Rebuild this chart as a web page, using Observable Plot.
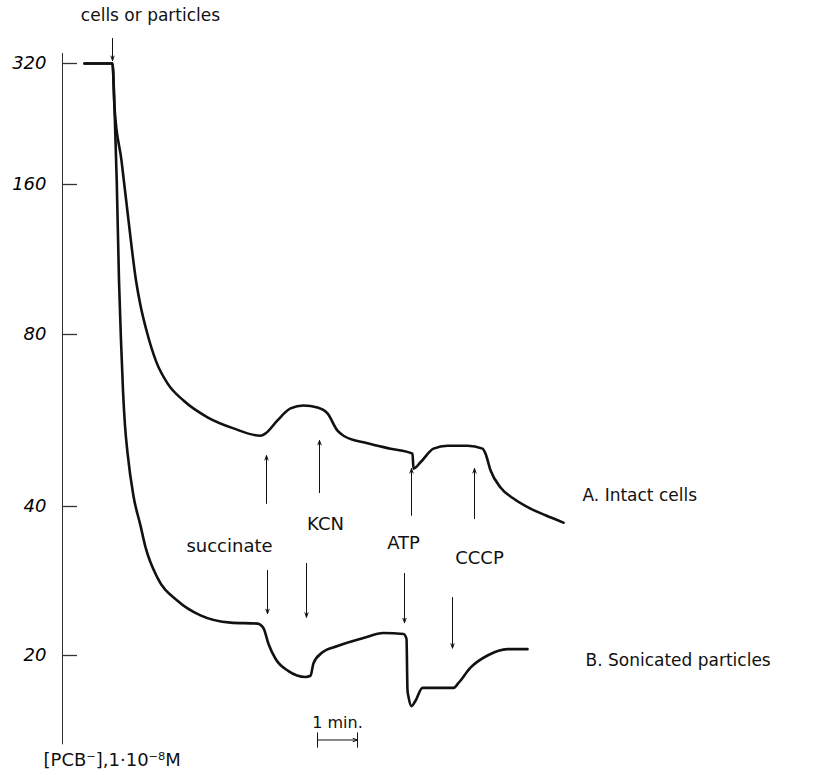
<!DOCTYPE html>
<html>
<head>
<meta charset="utf-8">
<script src="https://cdn.jsdelivr.net/npm/d3@7"></script>
<script src="https://cdn.jsdelivr.net/npm/@observablehq/plot@0.6"></script>
<style>
  html, body { margin: 0; padding: 0; background: #fff; }
</style>
</head>
<body>
<div id="chart"></div>
<script>
// ---- data (time in minutes after addition of cells/particles, [PCB-] in 1e-8 M) ----
const yTicks = [20, 40, 80, 160, 320];

const minutesA = [-0.7, 0, 0.05, 0.225, 0.4, 0.5875, 0.7, 0.85, 1.1, 1.375, 1.775, 2.375, 3.025, 3.7, 3.825, 4.125, 4.45, 4.775, 5.125, 5.375, 5.625, 5.775, 6.375, 6.95, 7.5, 7.525, 7.7, 8.025, 8.375, 8.875, 9.25, 9.325, 9.45, 9.7, 10.025, 10.45, 10.825, 11.275];
const pcbA = [320, 320, 248.7, 183.5, 135.5, 102.7, 91.5, 81.5, 71.5, 65.7, 61.3, 57.3, 54.8, 53.2, 53.7, 56.6, 59.4, 60.1, 59.6, 58.2, 54.3, 53.2, 51.6, 50.5, 49.5, 46.6, 47.8, 50.5, 51.1, 51.1, 50.5, 49.5, 46.3, 43.2, 41.3, 39.6, 38.4, 37.1];

const minutesB = [-0.7, 0, 0.05, 0.1075, 0.1625, 0.2125, 0.2625, 0.3125, 0.375, 0.525, 0.7, 0.825, 1.125, 1.625, 2.2, 2.95, 3.625, 3.775, 3.9, 4.075, 4.4, 4.825, 4.95, 5.025, 5.25, 5.625, 6.275, 6.775, 7.275, 7.35, 7.375, 7.4, 7.475, 7.575, 7.75, 7.95, 8.525, 8.65, 8.95, 9.375, 9.875, 10.375];
const pcbB = [320, 320, 248.7, 161, 102.7, 78.1, 63.8, 55.4, 49.7, 41.7, 36.6, 33.1, 28.7, 25.8, 24.1, 23.3, 23.2, 22.7, 21.1, 19.7, 18.6, 18.1, 18.2, 19.3, 20.3, 20.9, 21.7, 22.2, 22.1, 21.6, 17.0, 16.5, 15.8, 16.2, 17.2, 17.2, 17.2, 17.6, 18.9, 20.0, 20.6, 20.6];

// additions
const additions = ["succinate", "KCN", "ATP", "CCCP"];
const upArrowX = [3.85, 5.175, 7.475, 9.05];
const upArrowFrom = [40.5, 42.3, 38.4, 37.8];
const upArrowTo = [49.1, 52.2, 46.6, 46.6];
const downArrowX = [3.875, 4.85, 7.3, 8.5];
const downArrowFrom = [29.7, 30.7, 29.3, 26.2];
const downArrowTo = [24.3, 23.9, 23.3, 20.7];
const additionLabelX = [2.925, 5.325, 7.275, 9.175];
const additionLabelY = [33.2, 36.8, 33.7, 31.4];

const seriesNames = ["A. Intact cells", "B. Sonicated particles"];
const seriesLabelX = [11.75, 11.825];
const seriesLabelY = [41.8, 19.5];

// ---- build tables ----
const lineA = minutesA.map((t, i) => ({t, c: pcbA[i]}));
const lineB = minutesB.map((t, i) => ({t, c: pcbB[i]}));
const upArrows = additions.map((a, i) => ({x: upArrowX[i], y1: upArrowFrom[i], y2: upArrowTo[i]}));
const downArrows = additions.map((a, i) => ({x: downArrowX[i], y1: downArrowFrom[i], y2: downArrowTo[i]}));
const addLabels = additions.map((a, i) => ({name: a, x: additionLabelX[i], y: additionLabelY[i]}));
const seriesLabels = seriesNames.map((n, i) => ({name: n, x: seriesLabelX[i], y: seriesLabelY[i]}));

const font = "DejaVu Sans, sans-serif";
const ink = "#111";

const chart = Plot.plot({
  width: 833,
  height: 775,
  marginLeft: 62,
  marginRight: 1,
  marginTop: 53,
  marginBottom: 30,
  style: {fontFamily: font, background: "#fff"},
  x: {domain: [-1.25, 18], range: [62, 832], axis: null},
  y: {type: "log", domain: yTicks, range: [655, 506, 334, 184, 63], axis: null},
  marks: [
    // axis line and inward ticks
    Plot.ruleX([-1.25], {y1: 13.2, y2: 338.9, stroke: "#333", strokeWidth: 1}),
    Plot.ruleY(yTicks, {x1: -1.25, x2: -0.875, stroke: "#333", strokeWidth: 1.3}),
    Plot.axisY({ticks: yTicks, tickSize: 0, tickPadding: 16, fontSize: 18, fontStyle: "italic", label: null, tickFormat: d => String(d)}),
    Plot.text(["[PCB⁻],1·10⁻⁸M"], {x: -1.725, y: 12.3, textAnchor: "start", fontSize: 18, fill: ink}),
    // curves
    Plot.line(lineA, {x: "t", y: "c", curve: "monotone-x", stroke: ink, strokeWidth: 2.6}),
    Plot.line(lineB, {x: "t", y: "c", curve: "monotone-x", stroke: ink, strokeWidth: 2.6}),
    // injection
    Plot.arrow([0], {x1: 0, x2: 0, y1: 369.3, y2: 325.6, stroke: ink, strokeWidth: 1, headLength: 7, headAngle: 40}),
    Plot.text(["cells or particles"], {x: 0.95, y: 421, fontSize: 17, fill: ink}),
    // additions
    Plot.arrow(upArrows, {x1: "x", x2: "x", y1: "y1", y2: "y2", stroke: ink, strokeWidth: 1, headLength: 7, headAngle: 40}),
    Plot.arrow(downArrows, {x1: "x", x2: "x", y1: "y1", y2: "y2", stroke: ink, strokeWidth: 1, headLength: 7, headAngle: 40}),
    Plot.text(addLabels, {x: "x", y: "y", text: "name", fontSize: 18, fill: ink}),
    Plot.text(seriesLabels, {x: "x", y: "y", text: "name", textAnchor: "start", fontSize: 17, fill: ink}),
    // time scale bar
    Plot.arrow([0], {x1: 5.125, x2: 6.125, y1: 13.5, y2: 13.5, stroke: ink, strokeWidth: 1, headLength: 7, headAngle: 40}),
    Plot.ruleX([5.125, 6.125], {y1: 13.0, y2: 13.95, stroke: ink, strokeWidth: 1}),
    Plot.text(["1 min."], {x: 5.625, y: 14.6, fontSize: 16, fill: ink})
  ]
});
document.getElementById("chart").appendChild(chart);
</script>
</body>
</html>
